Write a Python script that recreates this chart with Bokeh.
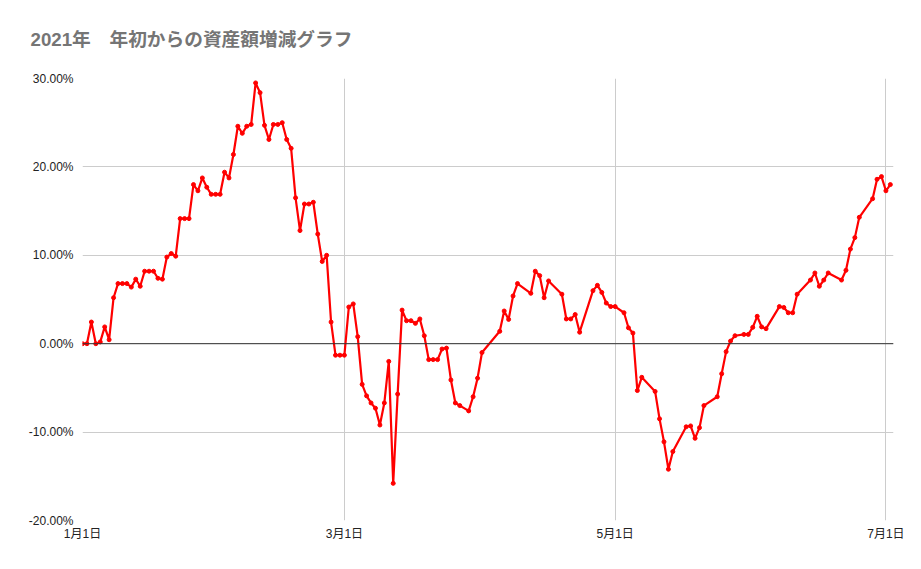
import pandas as pd
from bokeh.plotting import figure
from bokeh.models import (Range1d, FixedTicker, DatetimeTickFormatter, PrintfTickFormatter,
                          SingleIntervalTicker, Span, ColumnDataSource)
from bokeh.embed import file_html
from bokeh.resources import INLINE

title_text = "2021年\u3000年初からの資産額増減グラフ"

dates = [
    # January
    "01-01", "01-02", "01-03", "01-04", "01-05", "01-06", "01-07", "01-08", "01-09", "01-10",
    "01-11", "01-12", "01-13", "01-14", "01-15", "01-16", "01-17", "01-18", "01-19", "01-20",
    "01-21", "01-22", "01-23", "01-24", "01-25", "01-26", "01-27", "01-28", "01-29", "01-30", "01-31",
    # February
    "02-01", "02-02", "02-03", "02-04", "02-05", "02-06", "02-07", "02-08", "02-09", "02-10",
    "02-11", "02-12", "02-13", "02-14", "02-15", "02-16", "02-17", "02-18", "02-19", "02-20",
    "02-21", "02-22", "02-23", "02-24", "02-25", "02-26", "02-27", "02-28",
    # March
    "03-01", "03-02", "03-03", "03-04", "03-05", "03-06", "03-07", "03-08", "03-09", "03-10",
    "03-11", "03-12", "03-13", "03-14", "03-15", "03-16", "03-17", "03-18", "03-19", "03-20",
    "03-21", "03-22", "03-23", "03-24", "03-25", "03-26", "03-27", "03-29", "03-30", "03-31",
    # April
    "04-01", "04-05", "04-06", "04-07", "04-08", "04-09", "04-12", "04-13", "04-14", "04-15",
    "04-16", "04-19", "04-20", "04-21", "04-22", "04-23", "04-26", "04-27", "04-28", "04-29", "04-30",
    # May
    "05-01", "05-03", "05-04", "05-05", "05-06", "05-07", "05-10", "05-11", "05-12", "05-13",
    "05-14", "05-17", "05-18", "05-19", "05-20", "05-21", "05-24", "05-25", "05-26", "05-27",
    "05-28", "05-30", "05-31",
    # June
    "06-01", "06-02", "06-03", "06-04", "06-07", "06-08", "06-09", "06-10", "06-11", "06-14",
    "06-15", "06-16", "06-17", "06-18", "06-21", "06-22", "06-23", "06-24", "06-25", "06-28",
    "06-29", "06-30",
    # July
    "07-01", "07-02",
]

change_pct = [
    # January
    0.0, 0.0, 2.45, 0.0, 0.2, 1.9, 0.45, 5.2, 6.8, 6.8,
    6.8, 6.4, 7.3, 6.5, 8.2, 8.2, 8.2, 7.4, 7.3, 9.8,
    10.2, 9.9, 14.15, 14.15, 14.15, 18.0, 17.3, 18.75, 17.7, 16.9, 16.9,
    # February
    16.9, 19.4, 18.75, 21.4, 24.6, 23.8, 24.6, 24.8, 29.5, 28.4,
    24.7, 23.1, 24.8, 24.8, 25.0, 23.1, 22.1, 16.5, 12.8, 15.8,
    15.8, 16.0, 12.4, 9.3, 10.0, 2.45, -1.3, -1.3,
    # March
    -1.3, 4.15, 4.5, 0.8, -4.6, -5.9, -6.7, -7.3, -9.2, -6.7,
    -2.0, -15.8, -5.7, 3.8, 2.6, 2.6, 2.3, 2.8, 0.9, -1.8,
    -1.8, -1.8, -0.6, -0.5, -4.1, -6.7, -7.0, -7.6, -6.0, -3.9,
    # April
    -1.0, 1.4, 3.7, 2.75, 5.4, 6.8, 5.7, 8.2, 7.7, 5.2,
    7.1, 5.6, 2.8, 2.8, 3.3, 1.3, 6.0, 6.6, 5.8, 4.6, 4.2,
    # May
    4.2, 3.5, 1.8, 1.2, -5.3, -3.8, -5.4, -8.5, -11.1, -14.2,
    -12.2, -9.4, -9.3, -10.7, -9.5, -7.0, -6.0, -3.4, -0.9, 0.3,
    0.9, 1.05, 1.05,
    # June
    1.85, 3.1, 1.9, 1.7, 4.2, 4.1, 3.5, 3.5, 5.6, 7.2,
    8.0, 6.5, 7.2, 8.0, 7.2, 8.3, 10.7, 12.0, 14.3, 16.4,
    18.6, 18.9,
    # July
    17.3, 18.0,
]

tick_dates = ["2021-01-01", "2021-03-01", "2021-05-01", "2021-07-01"]

x = pd.to_datetime(["2021-" + d for d in dates])
src = ColumnDataSource(dict(x=x, y=change_pct))

FONT = "'Liberation Sans', 'Noto Sans CJK JP'"

p = figure(width=905, height=553, output_backend="svg", toolbar_location=None,
           x_axis_type="datetime",
           x_range=Range1d(pd.Timestamp("2021-01-01"), pd.Timestamp("2021-07-02 17:00")),
           y_range=Range1d(-20, 30),
           min_border_left=82, min_border_right=12, min_border_top=78, min_border_bottom=33)
p.outline_line_color = None
p.background_fill_color = "white"
p.border_fill_color = "white"

p.title.text = title_text
p.title.text_font = FONT
p.title.text_font_size = "18.7px"
p.title.text_font_style = "bold"
p.title.text_color = "#757575"
p.title.align = "left"
p.title.vertical_align = "top"
p.title.offset = -52
p.title.standoff = 54

ticks_ms = [pd.Timestamp(t).value / 1e6 for t in tick_dates]
xa = p.xaxis[0]
xa.ticker = FixedTicker(ticks=ticks_ms)
fmt = "%-m月%-d日"
xa.formatter = DatetimeTickFormatter(days=fmt, months=fmt, years=fmt, hours=fmt,
                                     minutes=fmt, seconds=fmt, milliseconds=fmt,
                                     microseconds=fmt, hourmin=fmt, minsec=fmt)
ya = p.yaxis[0]
ya.ticker = SingleIntervalTicker(interval=10)
ya.formatter = PrintfTickFormatter(format="%.2f%%")

for ax in (xa, ya):
    ax.axis_line_color = None
    ax.major_tick_line_color = None
    ax.minor_tick_line_color = None
    ax.major_tick_out = 0
    ax.major_tick_in = 0
    ax.minor_tick_out = 0
    ax.minor_tick_in = 0
    ax.major_label_text_font = FONT
    ax.major_label_text_font_size = "12px"
    ax.major_label_text_color = "#222222"
xa.major_label_standoff = 6
ya.major_label_standoff = 9

p.xgrid.ticker = xa.ticker
p.ygrid.ticker = ya.ticker
p.xgrid.grid_line_color = "#cccccc"
p.ygrid.grid_line_color = "#cccccc"

p.add_layout(Span(location=0, dimension="width", line_color="#333333", line_width=1))

p.line("x", "y", source=src, line_color="#ff0000", line_width=2.2)
p.scatter("x", "y", source=src, size=4, color="#ff0000")

open("out.html", "w").write(file_html(p, INLINE))
